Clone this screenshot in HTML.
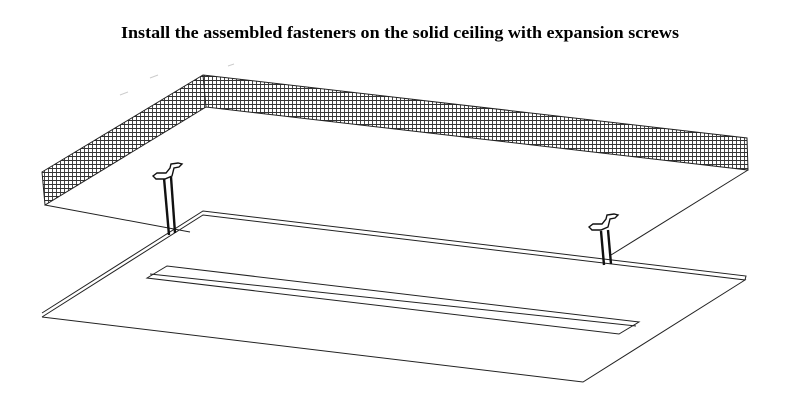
<!DOCTYPE html>
<html><head><meta charset="utf-8"><style>
html,body{margin:0;padding:0;background:#fff;width:801px;height:405px;overflow:hidden}
</style></head><body>
<svg width="801" height="405" viewBox="0 0 801 405" xmlns="http://www.w3.org/2000/svg">
<defs>
<pattern id="h" width="4" height="4" patternUnits="userSpaceOnUse">
<rect width="4" height="4" fill="#fff"/>
<path d="M0 0.5H4M0.5 0V4" stroke="#333" stroke-width="0.9"/>
</pattern>
</defs>
<text x="121" y="38" textLength="558" lengthAdjust="spacingAndGlyphs" font-family="Liberation Serif, serif" font-weight="bold" font-size="16.5">Install the assembled fasteners on the solid ceiling with expansion screws</text>
<g stroke="#ccc" stroke-width="1"><line x1="120" y1="95" x2="128" y2="92"/><line x1="150" y1="78" x2="158" y2="75"/><line x1="228" y1="66" x2="234" y2="64"/></g>
<polygon points="42,172 203,75 747,138 748,170 206,107 45,205" fill="url(#h)" stroke="#222" stroke-width="1"/>
<g stroke="#222" stroke-width="1" fill="none">
<line x1="203" y1="75" x2="206" y2="107"/>
<line x1="45" y1="205" x2="190" y2="232"/>
<line x1="748" y1="170" x2="611" y2="255"/>
<polyline points="42,317 203,215 745,280 583,382 42,317"/>
<polyline points="42,313 203,211 746,276 745,280"/>
<polygon points="147,278 167,266 639,322 619,334"/>
<line x1="150" y1="274" x2="636" y2="326"/>
</g>
<g stroke="#111" fill="none">
<line x1="164" y1="178" x2="169" y2="235" stroke-width="2.4"/>
<line x1="171" y1="177" x2="175" y2="233" stroke-width="2.4"/>
<path d="M153 176 L157 173 L166 173 L170 168 L171 164 L178 163 L182 164 L179 167 L174 168 L172 176 L165 179 L156 179 Z" stroke-width="1.4" fill="#fff"/>
<line x1="601" y1="231" x2="604" y2="265" stroke-width="2.4"/>
<line x1="608" y1="230" x2="611" y2="264" stroke-width="2.4"/>
<path d="M589 227 L593 224 L602 224 L606 219 L607 215 L614 214 L618 215 L615 218 L610 219 L608 227 L601 230 L592 230 Z" stroke-width="1.4" fill="#fff"/>
</g>
</svg>
</body></html>
